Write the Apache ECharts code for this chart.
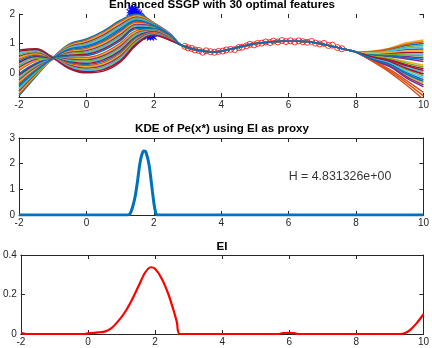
<!DOCTYPE html>
<html>
<head>
<meta charset="utf-8">
<script src="https://cdn.jsdelivr.net/npm/echarts@6/dist/echarts.min.js"></script>
<style>html,body{margin:0;padding:0;background:#fff}#c{width:432px;height:348px}</style>
</head>
<body>
<div id="c"></div>
<script>
// ---------- data ----------
const xTicks = [-2, 0, 2, 4, 6, 8, 10];
const titles = ['Enhanced SSGP with 30 optimal features', 'KDE of Pe(x*) using EI as proxy', 'EI'];

// sample curves (top plot): left part per sample, shared part through observations, right part per sample
const leftX = [-2, -1.5, -1, -0.5, 0, 0.5, 1, 1.5, 2, 2.5];
const leftProfiles = [
  [-0.78,-0.12,0.50,0.98,1.15,1.42,1.78,2.00,1.70,1.32],
  [-0.73,-0.09,0.51,0.95,1.11,1.37,1.73,1.96,1.69,1.31],
  [-0.67,-0.06,0.50,0.92,1.07,1.33,1.68,1.93,1.67,1.30],
  [-0.62,-0.02,0.52,0.89,1.03,1.28,1.63,1.89,1.66,1.30],
  [-0.56,0.01,0.50,0.86,0.99,1.23,1.58,1.86,1.64,1.29],
  [-0.51,0.04,0.51,0.84,0.95,1.19,1.54,1.82,1.63,1.28],
  [0.78,0.82,0.52,0.14,0.00,0.06,0.36,0.97,1.28,1.10],
  [-0.40,0.11,0.51,0.78,0.87,1.09,1.44,1.75,1.60,1.27],
  [-0.35,0.14,0.50,0.75,0.83,1.04,1.39,1.72,1.58,1.26],
  [-0.30,0.17,0.52,0.72,0.79,1.00,1.34,1.68,1.57,1.25],
  [-0.24,0.20,0.50,0.69,0.75,0.95,1.29,1.64,1.56,1.24],
  [-0.19,0.24,0.51,0.66,0.71,0.90,1.24,1.61,1.54,1.24],
  [-0.13,0.27,0.50,0.63,0.67,0.86,1.19,1.57,1.53,1.23],
  [-0.08,0.30,0.52,0.60,0.63,0.81,1.14,1.54,1.51,1.22],
  [-0.03,0.33,0.50,0.57,0.59,0.76,1.09,1.50,1.50,1.21],
  [0.08,0.40,0.51,0.52,0.52,0.67,1.00,1.43,1.47,1.20],
  [0.13,0.43,0.50,0.49,0.48,0.62,0.95,1.40,1.45,1.19],
  [0.19,0.46,0.52,0.46,0.44,0.58,0.90,1.36,1.44,1.18],
  [0.24,0.50,0.50,0.43,0.40,0.53,0.85,1.33,1.42,1.18],
  [0.30,0.53,0.51,0.40,0.36,0.48,0.80,1.29,1.41,1.17],
  [0.35,0.56,0.50,0.37,0.32,0.44,0.75,1.25,1.40,1.16],
  [0.40,0.59,0.52,0.34,0.28,0.39,0.70,1.22,1.38,1.15],
  [0.46,0.63,0.50,0.31,0.24,0.34,0.65,1.18,1.37,1.15],
  [0.51,0.66,0.51,0.28,0.20,0.29,0.60,1.15,1.35,1.14],
  [0.56,0.69,0.50,0.26,0.16,0.25,0.56,1.11,1.34,1.13],
  [0.62,0.72,0.52,0.23,0.12,0.20,0.51,1.08,1.32,1.12],
  [0.67,0.76,0.50,0.20,0.08,0.15,0.46,1.04,1.31,1.12],
  [0.73,0.79,0.51,0.17,0.04,0.11,0.41,1.01,1.29,1.11],
  [-0.46,0.07,0.49,0.81,0.91,1.14,1.49,1.79,1.61,1.27]
];
const sharedX = [2.8, 3.3, 3.8, 4.3, 4.8, 5.3, 5.8, 6.3, 6.8, 7.3, 7.8, 8.0];
const sharedY = [0.95, 0.77, 0.71, 0.81, 0.95, 1.03, 1.07, 1.07, 1.02, 0.90, 0.77, 0.71];
const rightX = [8.5, 9, 9.5, 10];
const rightProfiles = [
  [0.68,0.72,0.79,0.81],
  [0.38,0.02,-0.42,-0.90],
  [0.74,0.84,1.02,1.12],
  [0.60,0.55,0.47,0.39],
  [0.50,0.36,0.10,-0.10],
  [0.64,0.65,0.65,0.63],
  [0.55,0.46,0.28,0.14],
  [0.72,0.79,0.93,1.00],
  [0.40,0.07,-0.34,-0.78],
  [0.45,0.26,-0.08,-0.35],
  [0.62,0.60,0.56,0.51],
  [0.70,0.77,0.88,0.94],
  [0.52,0.41,0.19,0.02],
  [0.66,0.67,0.70,0.69],
  [0.48,0.31,0.01,-0.23],
  [0.73,0.82,0.97,1.06],
  [0.57,0.50,0.38,0.26],
  [0.42,0.21,-0.18,-0.47],
  [0.63,0.62,0.61,0.57],
  [0.69,0.74,0.84,0.88],
  [0.51,0.38,0.15,-0.04],
  [0.61,0.58,0.51,0.45],
  [0.41,0.12,-0.26,-0.66],
  [0.67,0.70,0.74,0.75],
  [0.44,0.24,-0.13,-0.41],
  [0.56,0.48,0.33,0.20],
  [0.49,0.34,0.05,-0.16],
  [0.54,0.43,0.24,0.08],
  [0.46,0.29,-0.04,-0.29]
];

// observations (red circles)
const obsX = [-1.08,2.92,3.02,3.12,3.22,3.34,3.45,3.55,3.68,3.80,3.92,4.05,4.15,4.28,4.40,4.52,4.62,4.75,4.85,4.97,5.08,5.20,5.32,5.45,5.55,5.68,5.80,5.92,6.05,6.18,6.30,6.42,6.55,6.68,6.80,6.92,7.05,7.18,7.30,7.45,7.58];
const obsY = [0.50,0.90,0.85,0.83,0.78,0.76,0.70,0.75,0.72,0.70,0.73,0.74,0.78,0.80,0.79,0.86,0.87,0.92,0.97,0.95,1.00,1.01,1.05,1.03,1.08,1.05,1.10,1.06,1.09,1.05,1.09,1.06,1.04,1.07,1.01,0.98,1.00,0.93,0.94,0.86,0.82];

// sampled maxima (blue markers)
const maxX = [1.30,1.36,1.40,1.44,1.48,1.50,1.53,1.55,1.58,1.42,1.46,1.60,1.63,1.52,1.66,1.57,1.62,1.68,1.35,1.45,1.38,1.60,1.64,1.70,1.73,1.76,1.72,1.80,1.78,1.85,1.88,1.83,1.92,1.95,1.90,1.98,1.55,1.58,1.62,1.67,1.75,1.82];
const maxY = [2.05,2.10,2.02,2.08,1.98,2.04,1.95,2.00,1.92,1.95,1.90,1.88,1.85,1.86,1.80,1.78,1.74,1.70,2.18,2.15,2.12,1.62,1.55,1.50,1.45,1.40,1.36,1.42,1.32,1.38,1.30,1.26,1.31,1.27,1.22,1.24,1.70,1.62,1.52,1.45,1.30,1.25];

// KDE (middle)
const kdeX = [-2,1.1,1.23,1.30,1.38,1.45,1.52,1.58,1.64,1.70,1.75,1.80,1.86,1.91,1.96,2.01,2.05,2.09,2.2,10];
const kdeY = [0,0,0,0.06,0.35,0.75,1.35,1.95,2.33,2.49,2.48,2.30,1.95,1.45,0.90,0.40,0.12,0,0,0];
const hText = 'H = 4.831326e+00';
const hAnchor = [6.0, 1.5];

// EI (bottom)
const eiX = [-2,-1.85,-0.1,0.0,0.3,0.5,0.7,0.9,1.1,1.3,1.5,1.7,1.87,2.0,2.2,2.4,2.55,2.65,2.74,5.7,5.8,6.0,6.15,6.25,9.3,9.45,9.6,9.8,10];
const eiY = [0.006,0,0,0.003,0.008,0.012,0.03,0.065,0.11,0.17,0.24,0.31,0.338,0.33,0.28,0.2,0.12,0.06,0,0,0.005,0.006,0.004,0,0,0.005,0.02,0.055,0.1];

// ---------- chart ----------
const palette = ['#0072BD','#D95319','#EDB120','#7E2F8E','#77AC30','#4DBEEE','#A2142F'];
const axisColor = '#262626';
const font = '"Liberation Sans", Arial, Helvetica, sans-serif';
const zip = (xs, ys) => xs.map((x, i) => [x, ys[i]]);

const grids = [
  {left: 19, right: 7, top: 14, height: 83},
  {left: 19, right: 7, top: 138, height: 77},
  {left: 19, right: 7, top: 255, height: 79}
];
const yCfg = [
  {min: -0.82, max: 2, ticks: [0, 1, 2], box: false},
  {min: 0, max: 3, ticks: [0, 1, 2, 3], box: true},
  {min: 0, max: 0.4, ticks: [0, 0.2, 0.4], box: true}
];

const xAxis = [], yAxis = [];
grids.forEach((g, gi) => {
  const box = yCfg[gi].box;
  const tick = {show: true, inside: true, length: 4, lineStyle: {color: axisColor, width: 1}};
  const xb = {type: 'value', gridIndex: gi, min: -2, max: 10, interval: 2, splitLine: {show: false}};
  xAxis.push(Object.assign({}, xb, {position: 'bottom',
    axisLine: {show: true, onZero: false, lineStyle: {color: axisColor, width: 1}},
    axisTick: tick,
    axisLabel: {show: true, color: axisColor, fontSize: 10, fontFamily: font, margin: 3}}));
  xAxis.push(Object.assign({}, xb, {position: 'top',
    axisLine: {show: box, onZero: false, lineStyle: {color: axisColor, width: 1}},
    axisTick: tick, axisLabel: {show: false}}));
  const c = yCfg[gi];
  const yb = {type: 'value', gridIndex: gi, min: c.min, max: c.max, splitLine: {show: false}};
  yAxis.push(Object.assign({}, yb, {position: 'left',
    axisLine: {show: true, onZero: false, lineStyle: {color: axisColor, width: 1}},
    axisTick: Object.assign({}, tick, {customValues: c.ticks}),
    axisLabel: {show: true, color: axisColor, fontSize: 10, fontFamily: font, margin: 4, customValues: c.ticks}}));
  yAxis.push(Object.assign({}, yb, {position: 'right',
    axisLine: {show: box, onZero: false, lineStyle: {color: axisColor, width: 1}},
    axisTick: Object.assign({}, tick, {customValues: c.ticks}),
    axisLabel: {show: false}}));
});

const series = [];
leftProfiles.forEach((lp, k) => {
  const data = zip(leftX, lp).concat(zip(sharedX, sharedY), zip(rightX, rightProfiles[k]));
  series.push({type: 'line', xAxisIndex: 0, yAxisIndex: 0, data, showSymbol: false, smooth: 0.4,
    lineStyle: {color: palette[k % 7], width: 1.5}, silent: true});
});
series.push({type: 'scatter', xAxisIndex: 0, yAxisIndex: 0, data: zip(obsX, obsY), symbol: 'circle', symbolSize: 6,
  itemStyle: {color: 'rgba(0,0,0,0)', borderColor: '#ff0000', borderWidth: 1}, silent: true});
series.push({type: 'scatter', xAxisIndex: 0, yAxisIndex: 0, data: zip(maxX, maxY), clip: false,
  symbol: 'path://M0,0L10,10M10,0L0,10M5,0L5,10M0,5L10,5', symbolSize: 7,
  itemStyle: {color: 'rgba(0,0,0,0)', borderColor: '#0000ff', borderWidth: 1.3}, silent: true});
series.push({type: 'line', xAxisIndex: 2, yAxisIndex: 2, data: zip(kdeX, kdeY), showSymbol: false, smooth: 0.3,
  lineStyle: {color: '#0072BD', width: 3}, silent: true});
series.push({type: 'scatter', xAxisIndex: 2, yAxisIndex: 2, data: [hAnchor], symbolSize: 0,
  label: {show: true, position: [0, 0], align: 'left', verticalAlign: 'middle', formatter: hText,
    color: '#000', fontSize: 12.4, fontFamily: font}, silent: true});
series.push({type: 'line', xAxisIndex: 4, yAxisIndex: 4, data: zip(eiX, eiY), showSymbol: false, smooth: 0.3,
  lineStyle: {color: '#ff0000', width: 2.2}, silent: true});

const titleY = [5, 129, 247];
const graphic = titles.map((t, i) => ({type: 'text', x: 222, y: titleY[i], silent: true,
  style: {text: t, fill: '#000', font: 'bold 11.6px ' + font, textAlign: 'center', textVerticalAlign: 'middle'}}));

const chart = echarts.init(document.getElementById('c'), null, {renderer: 'canvas'});
chart.setOption({animation: false, backgroundColor: '#fff', grid: grids, xAxis, yAxis, series, graphic});
</script>
</body>
</html>
